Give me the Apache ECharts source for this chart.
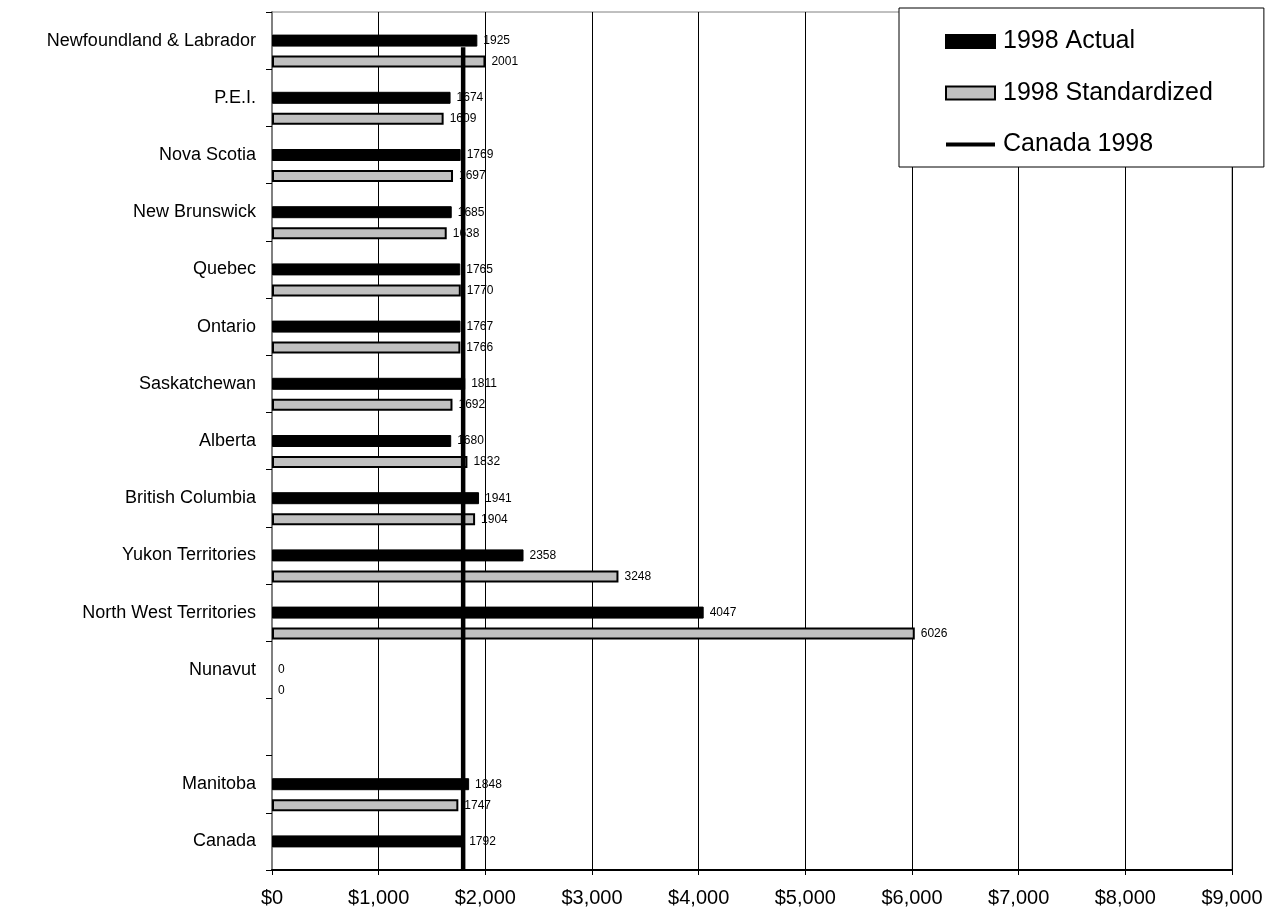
<!DOCTYPE html>
<html>
<head>
<meta charset="utf-8">
<script src="https://cdn.jsdelivr.net/npm/echarts@6/dist/echarts.min.js"></script>
<style>
html,body{margin:0;padding:0;background:#fff;}
#chart{width:1273px;height:915px;}
</style>
</head>
<body>
<div id="chart"></div>
<script>
var categories = ['Newfoundland & Labrador','P.E.I.','Nova Scotia','New Brunswick','Quebec','Ontario','Saskatchewan','Alberta','British Columbia','Yukon Territories','North West Territories','Nunavut','','Manitoba','Canada'];
var actual1998 = [1925,1674,1769,1685,1765,1767,1811,1680,1941,2358,4047,0,null,1848,1792];
var standardized1998 = [2001,1609,1697,1638,1770,1766,1692,1832,1904,3248,6026,0,null,1747,null];
var canada1998 = 1792;
var xTicks = [0,1000,2000,3000,4000,5000,6000,7000,8000,9000];
var lineSpan = [0, 0.959];

var FONT = "'Liberation Sans', Arial, sans-serif";
var chart = echarts.init(document.getElementById('chart'));

var labelCfg = {show:true, position:'right', distance:6, color:'#000', fontSize:12, fontFamily:FONT};

function noBorderAtZero(arr){
  return arr.map(function(v){
    return v === 0 ? {value:0, itemStyle:{borderWidth:0}} : v;
  });
}

chart.setOption({
  animation:false,
  backgroundColor:'#fff',
  textStyle:{fontFamily:FONT},
  grid:{left:272, right:41, top:12, bottom:45, show:true, borderColor:'#808080', borderWidth:1},
  legend:{
    orient:'vertical', left:899, top:8,
    padding:[21,51,10,46],
    backgroundColor:'#fff', borderColor:'#000', borderWidth:1,
    itemWidth:49, itemHeight:13, itemGap:26.5,
    textStyle:{fontSize:25, color:'#000', fontFamily:FONT, lineHeight:25, padding:[0,0,0,3]},
    data:[
      {name:'1998 Actual', icon:'rect'},
      {name:'1998 Standardized', icon:'rect'},
      {name:'Canada 1998', icon:'path://M0,0M49,13M0,4.5L49,4.5L49,8.5L0,8.5Z', itemStyle:{color:'#000', borderWidth:0}}
    ]
  },
  xAxis:{
    type:'value', min:xTicks[0], max:xTicks[xTicks.length-1], interval:1000,
    axisLine:{show:true, lineStyle:{color:'#000', width:2}},
    axisTick:{show:true, length:5, lineStyle:{color:'#000'}},
    axisLabel:{fontSize:20, color:'#000', margin:18, fontFamily:FONT,
      formatter:function(v){return '$' + v.toLocaleString('en-US');}},
    splitLine:{show:true, lineStyle:{color:'#000', width:1}}
  },
  yAxis:[{
    type:'category', data:categories, inverse:true,
    axisLine:{show:true, lineStyle:{color:'#808080', width:2}},
    axisTick:{show:true, length:6, lineStyle:{color:'#000'}},
    axisLabel:{fontSize:18, color:'#000', margin:16, fontFamily:FONT, interval:0},
    splitLine:{show:false}
  },{
    type:'value', min:0, max:1, show:false
  }],
  series:[
    {type:'bar', name:'_spacer', data:categories.map(function(){return null;}), barWidth:12, barGap:'75%', silent:true},
    {type:'bar', name:'1998 Actual', data:noBorderAtZero(actual1998), barWidth:12, barGap:'75%',
      itemStyle:{color:'#000', borderColor:'#000', borderWidth:1}, label:labelCfg},
    {type:'bar', name:'1998 Standardized', data:noBorderAtZero(standardized1998), barWidth:12, barGap:'75%',
      itemStyle:{color:'#c0c0c0', borderColor:'#000', borderWidth:2}, label:labelCfg},
    {type:'line', name:'Canada 1998', yAxisIndex:1, z:5, symbol:'none',
      data:[[canada1998, lineSpan[0]],[canada1998, lineSpan[1]]],
      lineStyle:{color:'#000', width:4.5}, itemStyle:{color:'#000'}}
  ]
});
</script>
</body>
</html>
